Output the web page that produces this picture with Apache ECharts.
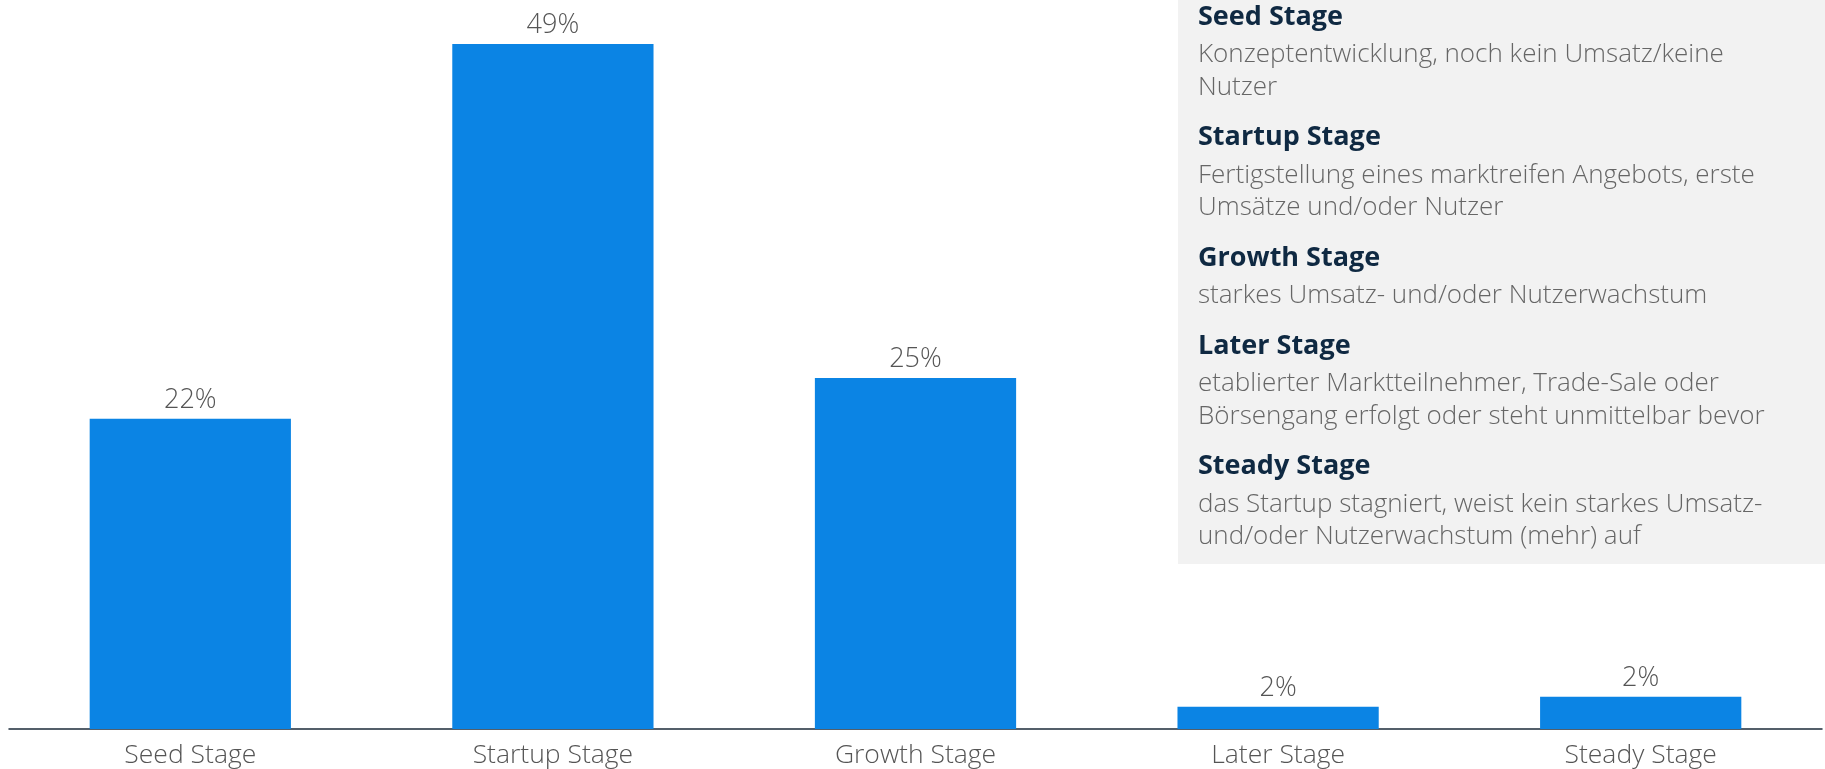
<!DOCTYPE html>
<html>
<head>
<meta charset="utf-8">
<script src="https://cdn.jsdelivr.net/npm/echarts@6/dist/echarts.min.js"></script>
<style>
html,body{margin:0;padding:0;background:#fff;}
#c{width:1825px;height:769px;}
</style>
</head>
<body>
<div id="c"></div>
<script>
var categories = ['Seed Stage', 'Startup Stage', 'Growth Stage', 'Later Stage', 'Steady Stage'];
var values = [22.2, 49, 25.1, 1.6, 2.3];
var legendHeadings = ['Seed Stage', 'Startup Stage', 'Growth Stage', 'Later Stage', 'Steady Stage'];
var legendTexts = [
  ['Konzeptentwicklung, noch kein Umsatz/keine', 'Nutzer'],
  ['Fertigstellung eines marktreifen Angebots, erste', 'Umsätze und/oder Nutzer'],
  ['starkes Umsatz- und/oder Nutzerwachstum'],
  ['etablierter Marktteilnehmer, Trade-Sale oder', 'Börsengang erfolgt oder steht unmittelbar bevor'],
  ['das Startup stagniert, weist kein starkes Umsatz-', 'und/oder Nutzerwachstum (mehr) auf']
];

var FONT = '"Open Sans", "Noto Sans", sans-serif';
var chart = echarts.init(document.getElementById('c'));

// legend panel
var els = [{
  type: 'rect', left: 1178, top: 0,
  shape: { width: 647, height: 564 },
  style: { fill: '#f2f2f2' }, z: 10
}];
var y = 17;
for (var i = 0; i < legendHeadings.length; i++) {
  els.push({
    type: 'text', x: 1198, y: y, z: 11,
    style: { text: legendHeadings[i], font: '700 27px ' + FONT, fill: '#0f2942', verticalAlign: 'middle' }
  });
  var ly = y + 37.5;
  for (var j = 0; j < legendTexts[i].length; j++) {
    els.push({
      type: 'text', x: 1198, y: ly + j * 32.6, z: 11,
      style: { text: legendTexts[i][j], font: '300 26px ' + FONT, fill: '#666666', verticalAlign: 'middle' }
    });
  }
  y = ly + (legendTexts[i].length - 1) * 32.6 + 50.5;
}

chart.setOption({
  animation: false,
  grid: { left: 9, right: 3, top: 44, bottom: 40, containLabel: false },
  xAxis: {
    type: 'category',
    data: categories,
    axisLine: { lineStyle: { color: '#1c2b3a', width: 1.5 } },
    axisTick: { show: false },
    axisLabel: { color: '#555555', fontSize: 26.5, fontFamily: FONT, fontWeight: 300, margin: 13 }
  },
  yAxis: {
    type: 'value', min: 0, max: 49,
    show: false, splitLine: { show: false }
  },
  series: [{
    type: 'bar',
    data: values,
    barWidth: '55.5%',
    itemStyle: { color: '#0b84e4' },
    label: {
      show: true, position: 'top', distance: 5,
      color: '#555555', fontSize: 27, fontFamily: FONT, fontWeight: 300,
      formatter: function (p) { return Math.round(p.value) + '%'; }
    }
  }],
  graphic: els
});
</script>
</body>
</html>
